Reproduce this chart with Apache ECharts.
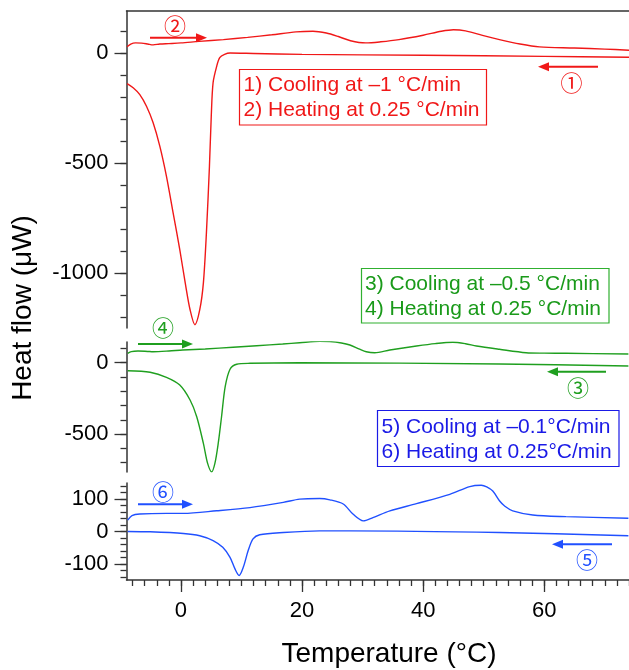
<!DOCTYPE html>
<html>
<head>
<meta charset="utf-8">
<script src="https://cdn.jsdelivr.net/npm/echarts@6/dist/echarts.min.js"></script>
<style>html,body{margin:0;padding:0;background:#fff}#c{width:629px;height:670px}</style>
</head>
<body>
<div id="c"></div>
<script>
// ---- data (Temperature °C, Heat flow µW) ----
const coolingRed = [[-8.9,-140],[-7.9,-159],[-6.8,-190],[-5.7,-243],[-4.6,-318],[-3.5,-424],[-2.4,-561],[-1.3,-727],[-0.2,-894],[0.7,-1045],[1.5,-1167],[2.3,-1235],[3.1,-1167],[3.7,-1045],[4.2,-818],[4.7,-515],[5.0,-288],[5.3,-136],[5.9,-61],[6.4,-22],[7.2,-7],[8.1,-1],[12,-3],[20,-7],[40,-11],[60,-16],[74,-20]];
const heatingRed = [[-8.9,28],[-8.3,40],[-7.5,45],[-6.5,44],[-5.5,40],[-4.6,36],[-3.5,40],[-2,42],[0,45],[3,52],[7,60],[11,70],[15,82],[19,95],[21.8,98],[24,90],[26,74],[28,55],[30.5,45],[33,50],[36,60],[40,80],[43,98],[45,105],[47,100],[49.8,79],[52.6,60],[56,40],[59.2,27],[65,22],[70,17],[74,12]];
const coolingGreen = [[-8.8,-56],[-5.1,-67],[-2.4,-102],[-0.2,-156],[1.5,-261],[2.6,-378],[3.7,-565],[4.4,-705],[5.07,-764],[5.6,-705],[6.15,-565],[6.7,-378],[7.3,-168],[8.1,-46],[9.2,-11],[11.4,-4],[19.6,0],[52.6,-9],[73.9,-23]];
const heatingGreen = [[-8.8,66],[-8.2,78],[-7.1,82],[-5.5,79],[-4.6,77],[-2,82],[0.3,89],[4,96],[8.6,108],[12.5,119],[16.8,131],[19.6,140],[22.9,150],[24.6,148],[26.5,138],[27.9,124],[29.5,95],[30.6,77],[32,70],[34.5,89],[38.9,117],[42,134],[44.9,143],[47,133],[48.8,117],[52.6,94],[57,70],[60,67],[63.6,66],[73.9,61]];
const coolingBlue = [[-8.8,0],[-5.1,-1],[0.4,-6],[3.1,-13],[5.3,-28],[6.9,-49],[8.1,-80],[8.9,-115],[9.6,-136],[10.3,-110],[11.1,-59],[11.9,-23],[13,-10],[16.9,-3],[22.9,2],[27.9,2],[52.6,-3],[73.9,-13]];
const heatingBlue = [[-8.8,35],[-8.1,49],[-6.8,54],[-2.4,56],[0.4,56],[5.9,64],[11.4,74],[16.9,90],[19.6,100],[22.9,102],[24.6,98],[26.8,85],[28.4,54],[30.1,33],[31.7,43],[34.5,64],[38.9,86],[44.4,115],[47.7,139],[49.6,143],[50.5,138],[51.5,125],[52.6,95],[53.5,78],[54.8,64],[58.1,51],[63.6,46],[73.9,41]];

// ---- tick labels ----
const xMajor = [0,20,40,60];
const xMinor = [-8,-6,-4,-2,0,2,4,6,8,10,12,14,16,18,20,22,24,26,28,30,32,34,36,38,40,42,44,46,48,50,52,54,56,58,60,62,64,66,68,70,72,74];
const yMajorTop = [-1000,-500,0];
const yMinorTop = [-1200,-1100,-1000,-900,-800,-700,-600,-500,-400,-300,-200,-100,0,100];
const yMajorMid = [-500,0];
const yMinorMid = [-700,-600,-500,-400,-300,-200,-100,0,100];
const yMajorBot = [-100,0,100];
const yMinorBot = [-140,-120,-100,-80,-60,-40,-20,0,20,40,60,80,100,120,140];

const RED = '#f01818', GREEN = '#1f9f1f', BLUE = '#2050ff';
const BLUE_TXT = '#1a1ae6', GREEN_TXT = '#1a9a1a';
const FONT = '"Liberation Sans", Arial, Helvetica, sans-serif';
const CIRC = '"Noto Sans CJK JP", "DejaVu Sans", sans-serif';
const AX = '#333';

const L = 126.5, W = 503;
const grids = [
  {left:L, top:11, width:W, height:317},
  {left:L, top:342, width:W, height:130},
  {left:L, top:483, width:W, height:97}
];

function xAx(gi, opts) {
  return Object.assign({type:'value', gridIndex:gi, min:-9, max:74, splitLine:{show:false},
    axisLine:{show:false, onZero:false}, axisTick:{show:false}, axisLabel:{show:false}}, opts||{});
}
function yMajor(gi, min, max, vals) {
  return {type:'value', gridIndex:gi, min:min, max:max, position:'left', splitLine:{show:false},
    axisLine:{show:true, onZero:false, lineStyle:{color:AX, width:1.5}},
    axisTick:{show:true, inside:false, length:12, customValues:vals, lineStyle:{color:AX, width:1.3}},
    axisLabel:{show:true, customValues:vals, margin:18, fontSize:22, color:'#000', fontFamily:FONT,
      formatter:function(v){return String(v);}}};
}
function yMinor(gi, min, max, vals) {
  return {type:'value', gridIndex:gi, min:min, max:max, position:'left', splitLine:{show:false},
    axisLine:{show:false, onZero:false}, axisLabel:{show:false},
    axisTick:{show:true, inside:false, length:6, customValues:vals, lineStyle:{color:AX, width:1.3}}};
}

const xAxes = [
  xAx(0, {position:'top', axisLine:{show:true, onZero:false, lineStyle:{color:AX, width:1.5}}}),
  xAx(1),
  xAx(2, {position:'bottom',
    axisLine:{show:true, onZero:false, lineStyle:{color:AX, width:1.5}},
    axisTick:{show:true, length:12, customValues:xMajor, lineStyle:{color:AX, width:1.3}},
    axisLabel:{show:true, customValues:xMajor, margin:20, fontSize:22, color:'#000', fontFamily:FONT}}),
  xAx(2, {position:'bottom',
    axisTick:{show:true, length:6, customValues:xMinor, lineStyle:{color:AX, width:1.3}}})
];
const yAxes = [
  yMajor(0,-1250,190,yMajorTop), yMinor(0,-1250,190,yMinorTop),
  yMajor(1,-765,145,yMajorMid), yMinor(1,-765,145,yMinorMid),
  yMajor(2,-150,150,yMajorBot), yMinor(2,-150,150,yMinorBot)
];

function ser(data, xi, yi, color) {
  return {type:'line', data:data, xAxisIndex:xi, yAxisIndex:yi, showSymbol:false,
    smooth:0.3, lineStyle:{color:color, width:1.4}, itemStyle:{color:color}, silent:true, clip:true};
}

function arrow(x1, x2, y, color) {
  const dir = x2 > x1 ? 1 : -1;
  const hl = 11, hw = 4.5;
  return [
    {type:'line', shape:{x1:x1, y1:y, x2:x2 - dir*hl*0.8, y2:y}, style:{stroke:color, lineWidth:2}},
    {type:'polygon', shape:{points:[[x2,y],[x2-dir*hl,y-hw],[x2-dir*hl,y+hw]]}, style:{fill:color}}
  ];
}
function circ(x, y, t, color) {
  return {type:'text', x:x, y:y, style:{text:t, fill:color, font:'22px ' + CIRC, align:'center', verticalAlign:'middle'}};
}
function box(x, y, w, h, l1, l2, color, borderColor, tx) {
  return [
    {type:'rect', shape:{x:x, y:y, width:w, height:h}, style:{fill:'#fff', stroke:borderColor, lineWidth:1.2}},
    {type:'text', x:tx, y:y + h*0.29, style:{text:l1, fill:color, font:'21px ' + FONT, verticalAlign:'middle'}},
    {type:'text', x:tx, y:y + h*0.74, style:{text:l2, fill:color, font:'21px ' + FONT, verticalAlign:'middle'}}
  ];
}

const graphics = [].concat(
  box(239.5, 69.5, 247, 55.5, '1) Cooling at \u20131 \u00B0C/min', '2) Heating at 0.25 \u00B0C/min', RED, RED, 243.5),
  box(361.5, 268.5, 247.5, 54.5, '3) Cooling at \u20130.5 \u00B0C/min', '4) Heating at 0.25 \u00B0C/min', GREEN_TXT, '#30b030', 365),
  box(377.5, 410.5, 241.5, 56, '5) Cooling at \u20130.1\u00B0C/min', '6) Heating at 0.25\u00B0C/min', BLUE_TXT, BLUE_TXT, 381.5),
  arrow(150, 207, 37.7, RED), [circ(175, 26, '\u2461', RED)],
  arrow(598, 538, 66.7, RED), [circ(571.5, 83, '\u2460', RED)],
  arrow(138, 193, 344, GREEN), [circ(163, 328, '\u2463', GREEN)],
  arrow(606, 547, 371.7, GREEN), [circ(578, 388, '\u2462', GREEN)],
  arrow(138, 193, 504.3, BLUE), [circ(163, 492, '\u2465', BLUE)],
  arrow(612, 552, 544.3, BLUE), [circ(587, 560, '\u2464', BLUE)],
  [
    {type:'text', x:389, y:654, style:{text:'Temperature (\u00B0C)', fill:'#000', font:'28px ' + FONT, align:'center', verticalAlign:'middle'}},
    {type:'text', x:23, y:308, rotation:Math.PI/2, style:{text:'Heat flow (\u03BCW)', fill:'#000', font:'28px ' + FONT, align:'center', verticalAlign:'middle'}}
  ]
);

const chart = echarts.init(document.getElementById('c'), null, {renderer:'canvas'});
chart.setOption({
  backgroundColor:'#fff',
  animation:false,
  grid:grids,
  xAxis:xAxes,
  yAxis:yAxes,
  series:[
    ser(coolingRed, 0, 0, RED), ser(heatingRed, 0, 0, RED),
    ser(coolingGreen, 1, 2, GREEN), ser(heatingGreen, 1, 2, GREEN),
    ser(coolingBlue, 2, 4, BLUE), ser(heatingBlue, 2, 4, BLUE)
  ],
  graphic:graphics
});
</script>
</body>
</html>
